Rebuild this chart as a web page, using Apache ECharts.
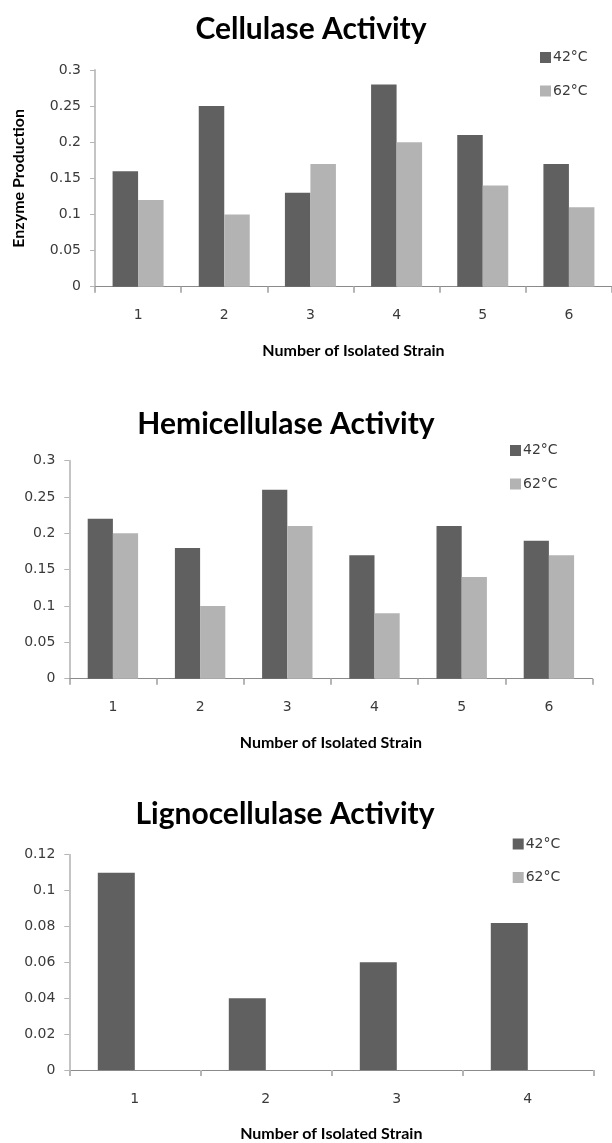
<!DOCTYPE html>
<html>
<head>
<meta charset="utf-8">
<script src="https://cdn.jsdelivr.net/npm/echarts@6/dist/echarts.min.js"></script>
<style>
html,body{margin:0;padding:0;background:#fff;}
#chart{width:612px;height:1143px;}
</style>
</head>
<body>
<div id="chart"></div>
<script>
// ---- data ----
const strains6 = ['1', '2', '3', '4', '5', '6'];
const strains4 = ['1', '2', '3', '4'];
const seriesNames = ['42°C', '62°C'];
const titles = ['Cellulase Activity', 'Hemicellulase Activity', 'Lignocellulase Activity'];
const xAxisTitle = 'Number of Isolated Strain';
const yAxisTitle = 'Enzyme Production';
const cellulase42 = [0.16, 0.25, 0.13, 0.28, 0.21, 0.17];
const cellulase62 = [0.12, 0.10, 0.17, 0.20, 0.14, 0.11];
const hemicellulase42 = [0.22, 0.18, 0.26, 0.17, 0.21, 0.19];
const hemicellulase62 = [0.20, 0.10, 0.21, 0.09, 0.14, 0.17];
const lignocellulase42 = [0.11, 0.04, 0.06, 0.082];
const lignocellulase62 = [0, 0, 0, 0];
const yMax = [0.3, 0.3, 0.12];
const yStep = [0.05, 0.05, 0.02];

// ---- styles ----
const DARK = '#606060';
const LIGHT = '#b3b3b3';
const labelFont = 'DejaVu Sans';
const boldFont = 'Lato';

const grids = [
  {left: 95, top: 70, width: 524, height: 216.7},
  {left: 69.3, top: 460.7, width: 523.2, height: 218},
  {left: 69.3, top: 854.7, width: 524, height: 216.3}
];
const titlePos = [{x: 311, y: 14}, {x: 286, y: 409}, {x: 285, y: 799}];
const legendPos = [{left: 540, top: 50.5}, {left: 510, top: 443.5}, {left: 512.7, top: 837}];
const barWidths = [25.5, 25.2, 37];
const cats = [strains6, strains6, strains4];
const data42 = [cellulase42, hemicellulase42, lignocellulase42];
const data62 = [cellulase62, hemicellulase62, lignocellulase62];

const fmt = v => String(parseFloat(v.toFixed(3)));

const option = {
  animation: false,
  backgroundColor: '#ffffff',
  title: titles.map((t, i) => ({
    text: t,
    left: titlePos[i].x,
    top: titlePos[i].y,
    textAlign: 'center',
    padding: 0,
    textStyle: {fontFamily: boldFont, fontWeight: 'bold', fontSize: 30, color: '#000'}
  })),
  legend: [0, 1, 2].map(i => ({
    orient: 'vertical',
    left: legendPos[i].left,
    top: legendPos[i].top,
    padding: 0,
    itemWidth: 11,
    itemHeight: 11,
    itemGap: 19.5,
    icon: 'rect',
    selectedMode: false,
    data: seriesNames.map(n => ({name: n})),
    textStyle: {fontFamily: labelFont, fontSize: 14, color: '#3a3a3a', lineHeight: 13, padding: [0, 0, 0, -3]}
  })),
  grid: grids.map(g => Object.assign({containLabel: false}, g)),
  xAxis: [0, 1, 2].map(i => ({
    type: 'category',
    gridIndex: i,
    data: cats[i],
    name: xAxisTitle,
    nameLocation: 'middle',
    nameGap: 56,
    nameTextStyle: {fontFamily: boldFont, fontWeight: 'bold', fontSize: 16, color: '#000'},
    axisLine: {show: true, lineStyle: {color: '#8a8a8a', width: 1}},
    axisTick: {show: true, alignWithLabel: false, length: 6, lineStyle: {color: '#b5b5b5', width: 2}},
    axisLabel: {margin: 22, fontFamily: labelFont, fontSize: 14, color: '#3a3a3a'},
    splitLine: {show: false}
  })),
  yAxis: [0, 1, 2].map(i => ({
    type: 'value',
    gridIndex: i,
    min: 0,
    max: yMax[i],
    interval: yStep[i],
    name: i === 0 ? yAxisTitle : '',
    nameLocation: 'middle',
    nameGap: 68,
    nameRotate: 90,
    nameTextStyle: {fontFamily: boldFont, fontWeight: 'bold', fontSize: 16, color: '#000'},
    axisLine: {show: true, lineStyle: {color: '#c4c4c4', width: 2}},
    axisTick: {show: true, length: 5, lineStyle: {color: '#b5b5b5', width: 1}},
    axisLabel: {margin: 14, fontFamily: labelFont, fontSize: 14, color: '#3a3a3a', formatter: fmt},
    splitLine: {show: false}
  })),
  series: []
};

[0, 1, 2].forEach(i => {
  option.series.push({
    name: seriesNames[0], type: 'bar', xAxisIndex: i, yAxisIndex: i,
    data: data42[i], barWidth: barWidths[i], barGap: '0%',
    itemStyle: {color: DARK}
  });
  option.series.push({
    name: seriesNames[1], type: 'bar', xAxisIndex: i, yAxisIndex: i,
    data: data62[i], barWidth: barWidths[i], barGap: '0%',
    itemStyle: {color: LIGHT}
  });
});

const chart = echarts.init(document.getElementById('chart'), null, {renderer: 'canvas'});
chart.setOption(option);
</script>
</body>
</html>
